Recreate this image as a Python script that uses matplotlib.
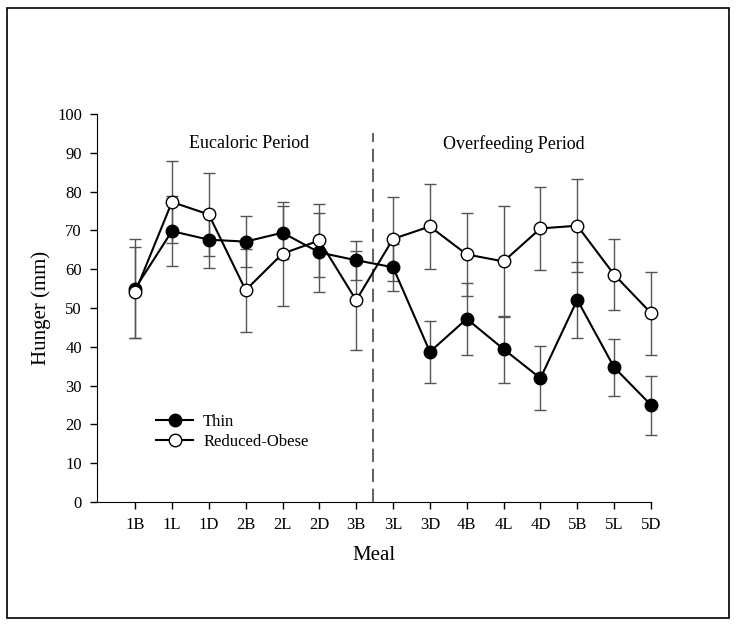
import matplotlib
matplotlib.use("Agg")
import matplotlib.pyplot as plt
from matplotlib.patches import Rectangle

plt.rcParams["font.family"] = ["Liberation Serif", "DejaVu Serif"]

# Meals and hunger scores
meals = ["1B", "1L", "1D", "2B", "2L", "2D", "3B", "3L",
         "3D", "4B", "4L", "4D", "5B", "5L", "5D"]
thin = [55.0, 69.8, 67.6, 67.1, 69.4, 64.3, 62.3, 60.5,
        38.7, 47.2, 39.4, 31.9, 52.1, 34.7, 25.0]
thin_err = [12.7, 9.0, 7.3, 6.5, 6.8, 10.1, 5.0, 6.1,
            8.0, 9.3, 8.6, 8.3, 9.8, 7.4, 7.6]
reduced_obese = [54.0, 77.3, 74.1, 54.6, 64.0, 67.4, 52.0, 67.8,
                 71.0, 63.8, 62.0, 70.5, 71.2, 58.6, 48.7]
reduced_obese_err = [11.7, 10.6, 10.6, 10.7, 13.4, 9.4, 12.8, 10.9,
                     11.0, 10.7, 14.4, 10.8, 12.0, 9.1, 10.7]

x = list(range(len(meals)))

fig = plt.figure(figsize=(7.36, 6.26), dpi=100)
ax = fig.add_axes([0.132, 0.198, 0.7525, 0.62])

# error bars first, in grey
for vals, errs in [(thin, thin_err), (reduced_obese, reduced_obese_err)]:
    eb = ax.errorbar(x, vals, yerr=errs, fmt="none", ecolor="#555555",
                     elinewidth=1.0, capsize=4, capthick=1.0, zorder=1)
    for art in eb.lines[1] + eb.lines[2]:
        art.set_clip_on(False)

ax.plot(x, thin, "-o", color="black", lw=1.5, markersize=9,
        markerfacecolor="black", markeredgecolor="black", label="Thin",
        zorder=3, clip_on=False)
ax.plot(x, reduced_obese, "-o", color="black", lw=1.5, markersize=9,
        markerfacecolor="white", markeredgecolor="black", label="Reduced-Obese",
        zorder=3, clip_on=False)

# period divider
ax.plot([6.45, 6.45], [0, 95], color="#444444", lw=1.2, ls=(0, (8, 4)), zorder=2)
ax.text(3.09, 92.3, "Eucaloric Period", ha="center", va="center", fontsize=13)
ax.text(10.28, 92.3, "Overfeeding Period", ha="center", va="center", fontsize=13)

ax.set_xlim(-1.03, 14.0)
ax.set_ylim(0, 100)
ax.set_yticks(range(0, 101, 10))
ax.set_xticks(x)
ax.set_xticklabels(meals)
ax.tick_params(labelsize=12, length=5, width=1, direction="out", pad=6)
ax.spines["top"].set_visible(False)
ax.spines["right"].set_visible(False)

ax.set_xlabel("Meal", fontsize=15, labelpad=9)
ax.set_ylabel("Hunger (mm)", fontsize=15, labelpad=4)

ax.legend(loc="upper left", bbox_to_anchor=(0.08, 0.265), frameon=False,
          fontsize=12, handlelength=2.2, handletextpad=0.6, labelspacing=0.2)

# outer frame
fig.patches.append(Rectangle((0.009, 0.013), 0.982, 0.975, transform=fig.transFigure,
                             fill=False, edgecolor="black", lw=1.2))

fig.savefig("out.png", dpi=100)
